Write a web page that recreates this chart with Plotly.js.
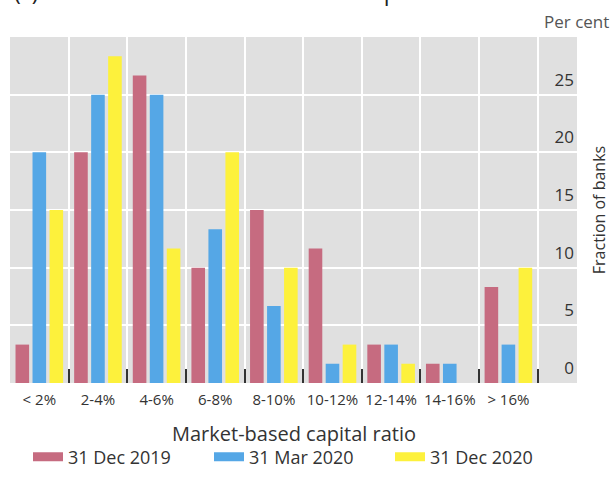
<!DOCTYPE html>
<html>
<head>
<meta charset="utf-8">
<script src="https://cdn.plot.ly/plotly-3.0.1.min.js"></script>
<style>html,body{margin:0;padding:0;background:#fff;}#chart{width:612px;height:484px;}</style>
</head>
<body>
<div id="chart"></div>
<script>
const categories = ["< 2%", "2-4%", "4-6%", "6-8%", "8-10%", "10-12%", "12-14%", "14-16%", "> 16%"];
const dec2019 = [3.33, 20, 26.67, 10, 15, 11.67, 3.33, 1.67, 8.33];
const mar2020 = [20, 25, 25, 13.33, 6.67, 1.67, 3.33, 1.67, 3.33];
const dec2020 = [15, 28.33, 11.67, 20, 10, 3.33, 1.67, 0, 10];
const seriesNames = ["31 Dec 2019", "31 Mar 2020", "31 Dec 2020"];
const yTicks = [0, 5, 10, 15, 20, 25];

const colors = ["#c66b80", "#55a7e6", "#fdf13c"];
const font = "'Open Sans', 'DejaVu Sans', sans-serif";
const series = [dec2019, mar2020, dec2020];

const traces = [];
series.forEach((vals, i) => {
  traces.push({type: "bar", x: categories, y: vals, name: seriesNames[i],
    marker: {color: colors[i]}, showlegend: false, hoverinfo: "x+y"});
});
series.forEach((vals, i) => {
  traces.push({type: "scatter", mode: "lines", x: [null], y: [null], name: seriesNames[i],
    line: {color: colors[i], width: 9}, showlegend: true});
});

const layout = {
  width: 612, height: 484,
  margin: {l: 10, r: 35, t: 37, b: 101},
  paper_bgcolor: "#ffffff",
  plot_bgcolor: "#e0e0e0",
  font: {family: font, color: "#333333"},
  barmode: "group",
  bargap: 0.13,
  bargroupgap: 0.2,
  showlegend: true,
  xaxis: {
    type: "category", categoryorder: "array", categoryarray: categories,
    range: [-0.5, 9.17],
    tickson: "boundaries", ticks: "inside", ticklen: 14, tickwidth: 2, tickcolor: "#333",
    showgrid: true, gridcolor: "#ffffff", gridwidth: 2,
    showline: false, zeroline: false, tickangle: 0,
    tickfont: {size: 15, color: "#333"}, ticklabelstandoff: 6,
    fixedrange: true
  },
  yaxis: {
    side: "right", range: [0, 30], tickvals: yTicks, ticktext: yTicks.map(String),
    ticks: "", ticklabelposition: "inside", ticklabelshift: -15,
    showgrid: true, gridcolor: "#ffffff", gridwidth: 2, zeroline: false, showline: false,
    tickfont: {size: 17, color: "#333"},
    title: {text: "Fraction of banks", font: {size: 16, color: "#333"}, standoff: 20},
    fixedrange: true
  },
  legend: {orientation: "h", xref: "container", yref: "container", x: 28/612, xanchor: "left",
    y: 1 - 457/484, yanchor: "middle", font: {size: 18, color: "#333"},
    entrywidth: 136, entrywidthmode: "pixels", traceorder: "normal", bgcolor: "rgba(0,0,0,0)"},
  annotations: [
    {text: "Market-based capital ratio", xref: "paper", yref: "paper", x: 0.5, y: 0,
      xanchor: "center", yanchor: "middle", yshift: -50, showarrow: false,
      font: {size: 20, color: "#333"}},
    {text: "Per cent", xref: "paper", yref: "paper", x: 1.06, y: 1, xanchor: "right",
      yanchor: "bottom", yshift: 2, showarrow: false, font: {size: 17, color: "#555"}},
    {text: "(c) Distribution of market-based capital ratios", xref: "paper", yref: "paper",
      x: 0, xshift: 2, y: 1, yanchor: "bottom", yshift: 28, xanchor: "left", showarrow: false,
      font: {size: 23, color: "#222"}}
  ]
};

Plotly.newPlot("chart", traces, layout, {displayModeBar: false, staticPlot: true});
</script>
</body>
</html>
